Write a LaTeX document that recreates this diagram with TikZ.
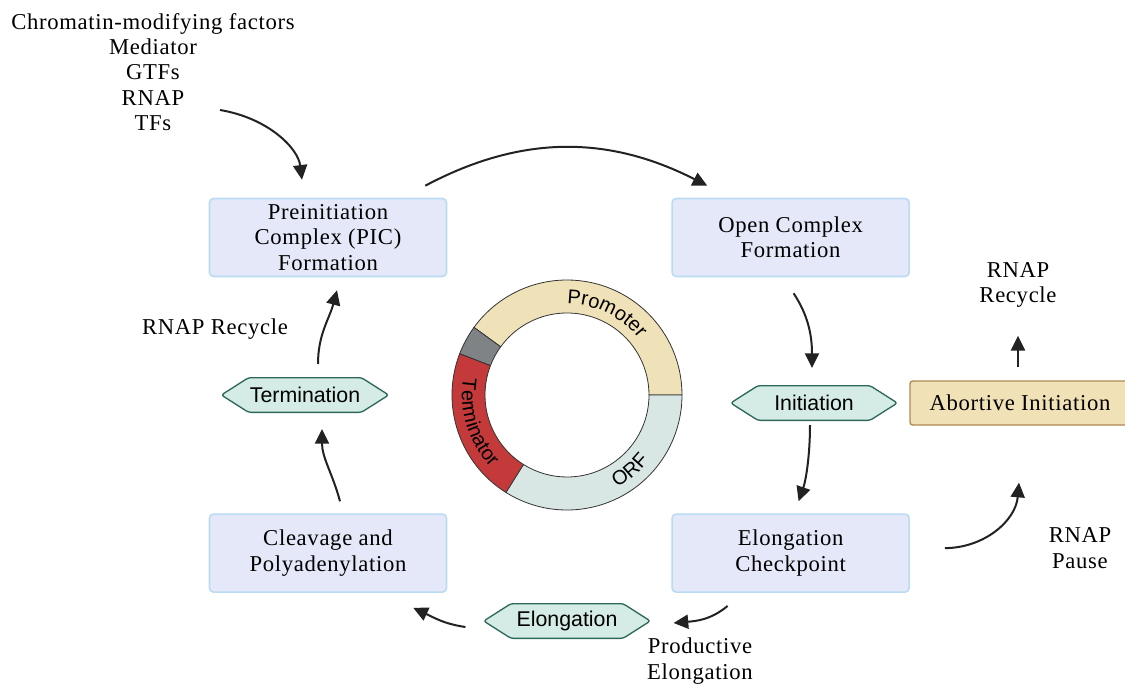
\documentclass[tikz,border=0pt]{standalone}
\usepackage{fontspec}
\setmainfont{Liberation Serif}[LetterSpace=3]
\setsansfont{Liberation Sans}
\usetikzlibrary{arrows.meta,positioning,shapes.symbols,decorations.text}

\definecolor{boxfill}{RGB}{228,232,248}
\definecolor{boxline}{RGB}{185,220,242}
\definecolor{hexfill}{RGB}{213,236,230}
\definecolor{hexline}{RGB}{45,105,90}
\definecolor{abortfill}{RGB}{240,225,182}
\definecolor{abortline}{RGB}{176,136,80}
\definecolor{promfill}{RGB}{240,226,184}
\definecolor{gapfill}{RGB}{128,131,133}
\definecolor{termfill}{RGB}{196,58,58}
\definecolor{orffill}{RGB}{216,231,228}
\definecolor{arrowc}{RGB}{34,34,34}

\newcommand{\labelfont}{\fontsize{17}{19}\selectfont}
\newcommand{\hexfont}{\sffamily\fontsize{16}{18}\selectfont}
\newcommand{\ringfont}{\sffamily\fontsize{15}{16}\selectfont}

\tikzset{
  stage/.style={rectangle,rounded corners=3pt,fill=boxfill,draw=boxline,
    line width=1.2pt,minimum width=177.75pt,minimum height=58.5pt,
    align=center,font=\labelfont},
  phase/.style={signal,signal to=west and east,signal pointer angle=65,
    rounded corners=2pt,fill=hexfill,draw=hexline,line width=1pt,
    minimum width=125pt,minimum height=26pt,inner sep=1pt,font=\hexfont},
  flow/.style={draw=arrowc,line width=1.5pt,
    -{Triangle[length=11pt,width=10.5pt]}},
  note/.style={align=center,font=\labelfont,inner sep=0pt}
}

\begin{document}
\begin{tikzpicture}[x=0.75pt,y=0.75pt]
  \useasboundingbox (0,0) rectangle (1125,-685);

  % the four stages
  \node[stage] (pic) at (328,-237.5) {Preinitiation\\Complex (PIC)\\Formation};
  \node[stage] (open) [right=168pt of pic] {Open Complex\\Formation};
  \node[stage] (cleave) [below=177pt of pic] {Cleavage and\\Polyadenylation};
  \node[stage] (check) [right=168pt of cleave] {Elongation\\Checkpoint};

  % steps between them
  \node[phase] (term) at (305,-395) {Termination};
  \node[phase] (init) at (814,-403) {Initiation};
  \node[phase] (elong) at (567,-621) {Elongation};

  \node[rectangle,rounded corners=2pt,fill=abortfill,draw=abortline,
    line width=1pt,minimum width=165pt,minimum height=33pt,
    font=\labelfont] (abort) at (1020,-403) {Abortive Initiation};

  % free labels
  \node[note] (factors) at (153,-72)
    {Chromatin-modifying factors\\Mediator\\GTFs\\RNAP\\TFs};
  \node[note] (recleft) at (215,-329) {RNAP Recycle};
  \node[note] (recright) at (1018,-285) {RNAP\\Recycle};
  \node[note] (pause) at (1080,-548) {RNAP\\Pause};
  \node[note] (prod) at (700,-661) {Productive\\Elongation};

  \coordinate (c1) at (220,-110);

  % plasmid ring
  \begin{scope}[shift={(567,-395)},draw=black!80,line width=0.6pt]
    \filldraw[fill=promfill] (0:115) arc[start angle=0,end angle=144,radius=115]
      -- (144:82) arc[start angle=144,end angle=0,radius=82] -- cycle;
    \filldraw[fill=gapfill] (144:115) arc[start angle=144,end angle=159,radius=115]
      -- (159:82) arc[start angle=159,end angle=144,radius=82] -- cycle;
    \filldraw[fill=termfill] (159:115) arc[start angle=159,end angle=238,radius=115]
      -- (238:82) arc[start angle=238,end angle=159,radius=82] -- cycle;
    \filldraw[fill=orffill] (238:115) arc[start angle=238,end angle=360,radius=115]
      -- (360:82) arc[start angle=360,end angle=238,radius=82] -- cycle;
    \path[decorate,decoration={text along path,text align=center,
      text={|\ringfont|Promoter}}]
      (112:91) arc[start angle=112,end angle=16,radius=91];
    \path[decorate,decoration={text along path,text align=center,
      text={|\ringfont|Terminator}}]
      (148:105) arc[start angle=148,end angle=246,radius=105];
    \path[decorate,decoration={text along path,text align=center,
      text={|\ringfont|ORF}}]
      (285:105) arc[start angle=285,end angle=335,radius=105];
  \end{scope}

  % cycle arrows
  \draw[flow] (c1) .. controls (268,-118) and (298,-148) .. ([shift={(-26,18)}]pic.north);
  \draw[flow] ([shift={(-22,12)}]pic.north east) to[out=28,in=153] ([shift={(36,12)}]open.north west);
  \draw[flow] ([shift={(3,-16)}]open.south) .. controls (808,-315) and (812,-335) .. ([shift={(-2,17)}]init.north);
  \draw[flow] ([shift={(-4,-4)}]init.south) .. controls (810,-455) and (806,-480) .. ([shift={(8,12)}]check.north);
  \draw[flow] ([shift={(-63,-13)}]check.south) to[out=-140,in=5] ([shift={(22,-2)}]elong.east);
  \draw[flow] ([shift={(-17,-6)}]elong.west) to[out=172,in=-25] ([shift={(-34,-15)}]cleave.south east);
  \draw[flow] ([shift={(12,12)}]cleave.north) to[out=105,in=-90] ([shift={(17,-16)}]term.south);
  \draw[flow] ([shift={(13,13)}]term.north) to[out=90,in=-105] ([shift={(9,-13)}]pic.south);
  \draw[flow] ([shift={(35,5)}]check.east) to[out=0,in=-95] ([shift={(-1,-57)}]abort.south);
  \draw[flow] ([shift={(-2,13)}]abort.north) -- ([shift={(0,-28)}]recright.south);
\end{tikzpicture}
\end{document}
